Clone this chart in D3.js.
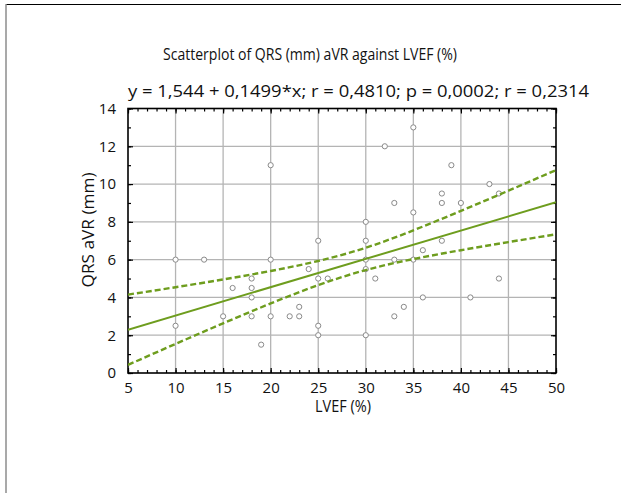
<!DOCTYPE html>
<html>
<head>
<meta charset="utf-8">
<title>QRS aVR vs LVEF</title>
<script src="https://cdn.jsdelivr.net/npm/d3@7"></script>
<style>
  body { margin: 0; background: #fff; }
  text { font-family: "Open Sans", sans-serif; fill: #111; }
  .grid line { stroke: #b4b4b4; stroke-width: 1.3; }
  .pt { fill: #fff; stroke: #8a8a8a; stroke-width: 1; }
</style>
</head>
<body>
<script>
// LVEF (%) and QRS aVR (mm)
var lvef = [10, 13, 20, 18, 16, 18, 18, 15, 18, 20, 10, 19, 20,
            25, 30, 30, 33, 24, 30, 25, 26, 31, 22, 23, 23, 25, 25, 30, 33, 34,
            32, 33, 30, 35, 39, 43, 38, 44, 38, 40, 35,
            38, 36, 35, 44, 36, 41];
var qrs = [6, 6, 6, 5, 4.5, 4.5, 4, 3, 3, 3, 2.5, 1.5, 11,
           7, 7, 6, 6, 5.5, 5.5, 5, 5, 5, 3, 3, 3.5, 2.5, 2, 2, 3, 3.5,
           12, 9, 8, 13, 11, 10, 9.5, 9.5, 9, 9, 8.5,
           7, 6.5, 6, 5, 4, 4];

// regression from the header, confidence band read at x = 5..50
var intercept = 1.544, slope = 0.1499;
var bandX = [5, 10, 15, 20, 25, 30, 35, 40, 45, 50];
var bandUpper = [4.15, 4.54, 4.95, 5.40, 5.93, 6.63, 7.55, 8.58, 9.65, 10.74];
var bandLower = [0.43, 1.54, 2.63, 3.68, 4.65, 5.45, 6.03, 6.50, 6.93, 7.34];

var xTicks = [5, 10, 15, 20, 25, 30, 35, 40, 45, 50];
var yTicks = [0, 2, 4, 6, 8, 10, 12, 14];

var W = 621, H = 493;
var pLeft = 128, pRight = 556, pTop = 108.5, pBottom = 373;
var green = "#6e9d1e";

var svg = d3.select("body").append("svg")
    .attr("width", W)
    .attr("height", H);

// page frame (only top and left edges show)
svg.append("line").attr("x1", 6).attr("x2", W).attr("y1", 4.5).attr("y2", 4.5)
    .attr("stroke", "#000").attr("stroke-width", 1);
svg.append("line").attr("x1", 6).attr("x2", 6).attr("y1", 4).attr("y2", H)
    .attr("stroke", "#8c8c8c").attr("stroke-width", 1.5);

var x = d3.scaleLinear().domain([5, 50]).range([pLeft, pRight]);
var y = d3.scaleLinear().domain([0, 14]).range([pBottom, pTop]);

svg.append("defs").append("clipPath").attr("id", "plotclip")
  .append("rect")
    .attr("x", pLeft).attr("y", pTop)
    .attr("width", pRight - pLeft).attr("height", pBottom - pTop);

// grid
var grid = svg.append("g").attr("class", "grid");
grid.selectAll(".gx").data(xTicks.slice(1, -1)).enter().append("line")
    .attr("x1", function(d) { return x(d); })
    .attr("x2", function(d) { return x(d); })
    .attr("y1", pTop).attr("y2", pBottom);
grid.selectAll(".gy").data(yTicks.slice(1, -1)).enter().append("line")
    .attr("y1", function(d) { return y(d); })
    .attr("y2", function(d) { return y(d); })
    .attr("x1", pLeft).attr("x2", pRight);

// inward ticks on all four sides: majors with labels, minors every 1
function tickAxis(axisFn, scale, pos, major, minor, pad, showLabels) {
    var g = svg.append("g").attr("transform", pos);
    g.call(axisFn(scale).tickValues(minor).tickSize(-3).tickFormat(""));
    var gm = svg.append("g").attr("transform", pos);
    gm.call(axisFn(scale).tickValues(major).tickSize(-5).tickPadding(pad)
        .tickFormat(showLabels ? d3.format("d") : ""));
    [g, gm].forEach(function(s) {
        s.select(".domain").remove();
        s.selectAll(".tick line").attr("stroke", "#000").attr("stroke-width", 1.2);
        s.selectAll("text").style("font-size", "15px").attr("fill", "#111");
    });
    return gm;
}

var xMinor = d3.range(5, 51, 1);
var yMinor = d3.range(0, 14.01, 1);

tickAxis(d3.axisBottom, x, "translate(0," + pBottom + ")", xTicks, xMinor, 9, true);
tickAxis(d3.axisTop, x, "translate(0," + pTop + ")", xTicks, xMinor, 10, false);
tickAxis(d3.axisLeft, y, "translate(" + pLeft + ",0)", yTicks, yMinor, 12, true);
tickAxis(d3.axisRight, y, "translate(" + pRight + ",0)", yTicks, yMinor, 10, false);

// frame
svg.append("rect")
    .attr("x", pLeft).attr("y", pTop)
    .attr("width", pRight - pLeft).attr("height", pBottom - pTop)
    .attr("fill", "none").attr("stroke", "#000").attr("stroke-width", 1.6);

var plot = svg.append("g").attr("clip-path", "url(#plotclip)");

// points
var pts = lvef.map(function(d, i) { return { x: d, y: qrs[i] }; });
plot.selectAll("circle").data(pts).enter().append("circle")
    .attr("class", "pt")
    .attr("cx", function(d) { return x(d.x); })
    .attr("cy", function(d) { return y(d.y); })
    .attr("r", 2.6);

// regression line
plot.append("line")
    .attr("x1", x(5)).attr("y1", y(intercept + slope * 5))
    .attr("x2", x(50)).attr("y2", y(intercept + slope * 50))
    .attr("stroke", green).attr("stroke-width", 2);

// confidence band
var bandLine = d3.line()
    .x(function(d) { return x(d[0]); })
    .y(function(d) { return y(d[1]); })
    .curve(d3.curveNatural);
[bandUpper, bandLower].forEach(function(arr) {
    plot.append("path")
        .datum(bandX.map(function(v, i) { return [v, arr[i]]; }))
        .attr("d", bandLine)
        .attr("fill", "none")
        .attr("stroke", green)
        .attr("stroke-width", 2.4)
        .attr("stroke-dasharray", "6,3");
});

// titles
svg.append("text")
    .attr("x", 310).attr("y", 60)
    .attr("text-anchor", "middle")
    .style("font-size", "15.5px")
    .attr("textLength", 294).attr("lengthAdjust", "spacingAndGlyphs")
    .text("Scatterplot of QRS (mm) aVR against LVEF (%)");

svg.append("text")
    .attr("x", 128).attr("y", 97)
    .style("font-size", "16px")
    .attr("textLength", 461).attr("lengthAdjust", "spacingAndGlyphs")
    .text("y = 1,544 + 0,1499*x;  r = 0,4810; p = 0,0002; r = 0,2314");

svg.append("text")
    .attr("x", 343).attr("y", 412)
    .attr("text-anchor", "middle")
    .style("font-size", "15.5px")
    .attr("textLength", 56).attr("lengthAdjust", "spacingAndGlyphs")
    .text("LVEF (%)");

svg.append("text")
    .attr("transform", "translate(94," + 230 + ") rotate(-90)")
    .attr("text-anchor", "middle")
    .style("font-size", "15.5px")
    .attr("textLength", 115).attr("lengthAdjust", "spacingAndGlyphs")
    .text("QRS aVR  (mm)");
</script>
</body>
</html>
